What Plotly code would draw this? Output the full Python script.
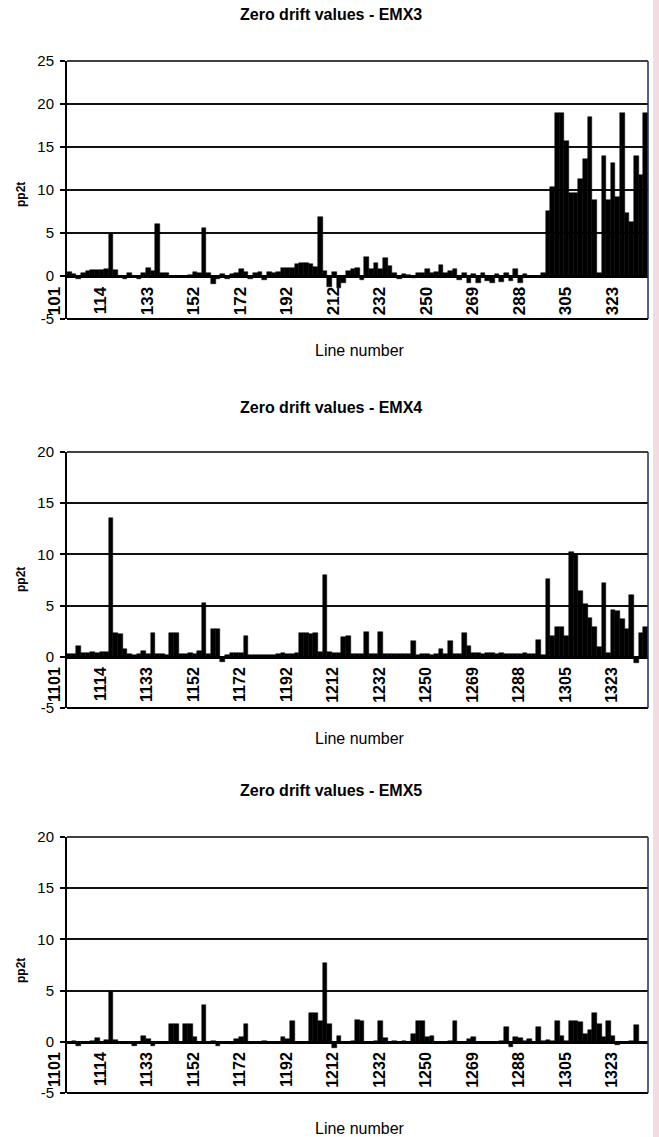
import plotly.graph_objects as go

# ---- data ----
emx3 = [0.5, 0.2, -0.4, 0.3, 0.6, 0.7, 0.7, 0.7, 0.8, 4.9,
        0.7, 0.0, -0.4, 0.3, 0.0, -0.3, 0.3, 0.9, 0.6, 6.1,
        0.4, 0.3, 0.0, 0.0, 0.0, 0.0, 0.1, 0.5, 0.3, 5.6,
        0.4, -0.9, -0.3, 0.2, -0.3, 0.2, 0.3, 0.8, 0.5, -0.4,
        0.4, 0.5, -0.5, 0.5, 0.4, 0.5, 0.9, 0.9, 0.9, 1.4,
        1.5, 1.5, 1.4, 1.0, 6.9, 0.6, -1.3, 0.5, -1.4, -0.8,
        0.6, 0.8, 0.9, -0.5, 2.2, 0.8, 1.5, 0.8, 2.1, 1.2,
        0.4, -0.3, 0.2, 0.1, -0.2, 0.3, 0.4, 0.8, 0.3, 0.5,
        1.3, 0.4, 0.6, 0.8, -0.5, 0.4, -0.8, 0.2, -0.8, 0.3,
        -0.6, -0.8, 0.2, -0.7, 0.3, -0.6, 0.8, -0.8, 0.2, 0.0,
        0.0, 0.0, 0.4, 7.6, 10.3, 19.0, 19.0, 15.7, 9.6, 9.6,
        11.3, 13.6, 18.5, 8.8, 0.3, 14.0, 8.8, 13.1, 9.2, 19.0,
        7.3, 6.3, 14.0, 11.7, 19.0]

emx4 = [0.3, 0.3, 1.1, 0.4, 0.4, 0.5, 0.4, 0.5, 0.5, 13.6,
        2.3, 2.2, 0.8, 0.3, 0.2, 0.3, 0.6, 0.3, 2.3, 0.3,
        0.3, 0.2, 2.3, 2.3, 0.3, 0.3, 0.4, 0.3, 0.6, 5.3,
        0.3, 2.7, 2.7, -0.5, 0.2, 0.4, 0.4, 0.4, 2.0, 0.2,
        0.2, 0.2, 0.2, 0.2, 0.2, 0.3, 0.4, 0.3, 0.3, 0.4,
        2.3, 2.3, 2.2, 2.3, 0.5, 8.0, 0.5, 0.4, 0.4, 1.9,
        2.0, 0.3, 0.3, 0.3, 2.4, 0.3, 0.3, 2.4, 0.3, 0.3,
        0.3, 0.3, 0.3, 0.3, 1.5, 0.2, 0.3, 0.3, 0.2, 0.3,
        0.8, 0.3, 1.5, 0.3, 0.3, 2.3, 1.1, 0.4, 0.4, 0.3,
        0.4, 0.4, 0.3, 0.4, 0.3, 0.3, 0.3, 0.3, 0.4, 0.3,
        0.3, 1.6, 0.2, 7.6, 2.0, 2.9, 2.9, 2.0, 10.2, 10.0,
        6.4, 5.2, 3.8, 2.9, 1.0, 7.2, 0.4, 4.6, 4.5, 3.7,
        2.7, 6.0, -0.6, 2.3, 2.9]

emx5 = [0.0, 0.1, -0.4, 0.0, 0.0, 0.1, 0.4, 0.0, 0.2, 4.9,
        0.2, 0.0, 0.0, 0.0, -0.4, 0.0, 0.6, 0.3, -0.4, 0.0,
        0.0, 0.0, 1.7, 1.7, 0.0, 1.7, 1.7, 0.5, 0.0, 3.6,
        0.0, 0.1, -0.4, 0.0, 0.0, -0.2, 0.3, 0.5, 1.7, 0.0,
        0.0, 0.0, 0.1, 0.0, 0.0, 0.0, 0.5, 0.3, 2.0, 0.0,
        0.0, 0.0, 2.8, 2.8, 2.0, 7.7, 1.7, -0.6, 0.6, 0.0,
        0.0, 0.1, 2.1, 2.0, 0.0, 0.0, 0.1, 2.0, 0.4, 0.0,
        0.1, 0.0, 0.1, 0.0, 0.8, 2.0, 2.0, 0.5, 0.6, 0.0,
        0.0, 0.0, 0.1, 2.0, 0.0, 0.0, 0.3, 0.5, 0.0, 0.0,
        0.0, 0.0, 0.0, 0.1, 1.4, -0.5, 0.5, 0.4, 0.1, 0.3,
        0.0, 1.4, 0.1, 0.2, 0.1, 2.0, 0.6, 0.1, 2.0, 2.0,
        1.9, 0.8, 1.2, 2.8, 1.7, 0.5, 2.0, 0.6, -0.3, 0.0,
        0.0, 0.1, 1.6, 0.0, 0.0]

ticks_emx3 = ["101", "114", "133", "152", "172", "192", "212",
              "232", "250", "269", "288", "305", "323"]
ticks_emx45 = ["1101", "1114", "1133", "1152", "1172", "1192", "1212",
               "1232", "1250", "1269", "1288", "1305", "1323"]
label_every = 10

titles = ["Zero drift values - EMX3", "Zero drift values - EMX4",
          "Zero drift values - EMX5"]
y_max = [25, 20, 20]

# ---- layout geometry (pixels of the 659 x 1137 page) ----
W, H = 659, 1137
FONT = "Liberation Sans, Arial, sans-serif"
plot_left, plot_right = 67, 648
panels = [
    dict(top=61, bottom=319, title_y=15, xlab_y=350, ylab_y=195, tsize=17),
    dict(top=452, bottom=708, title_y=407, xlab_y=739, ylab_y=580, tsize=16),
    dict(top=837, bottom=1093, title_y=790, xlab_y=1128, ylab_y=971, tsize=16),
]
series = [emx3, emx4, emx5]
tick_sets = [ticks_emx3, ticks_emx45, ticks_emx45]

fig = go.Figure()
annotations = []
shapes = []

for k in range(3):
    p = panels[k]
    vals = series[k]
    n = len(vals)
    xs = list(range(n))
    ax = "" if k == 0 else str(k + 1)
    d0 = 1 - p["bottom"] / H
    d1 = 1 - p["top"] / H
    ymax = y_max[k]
    zero_pos = d0 + (0 - (-5)) / (ymax + 5) * (d1 - d0)

    fig.add_trace(go.Bar(
        x=xs, y=vals, width=1.0,
        marker=dict(color="black", line=dict(color="black", width=0.5)),
        xaxis="x" + ax, yaxis="y" + ax, showlegend=False,
        hoverinfo="x+y"))

    tv = [i * label_every for i in range(len(tick_sets[k]))]
    fig.layout["xaxis" + ax] = dict(
        domain=[plot_left / W, plot_right / W], range=[-0.5, n - 0.5],
        anchor="free", position=zero_pos, automargin=False,
        showline=True, linewidth=3, linecolor="black",
        showgrid=False, zeroline=False,
        tickmode="array", tickvals=tv, ticktext=tick_sets[k],
        tickangle=-90, ticks="",
        tickfont=dict(family=FONT, size=p["tsize"], color="black", weight="bold"),
        ticklabelstandoff=2, ticklabelshift=-15)
    yt = list(range(-5, ymax + 1, 5))
    fig.layout["yaxis" + ax] = dict(
        domain=[d0, d1], range=[-5, ymax], anchor="x" + ax, automargin=False,
        tickmode="array", tickvals=yt, ticktext=[str(v) for v in yt],
        showgrid=True, gridcolor="#111111", gridwidth=1.8, zeroline=False,
        showline=True, linecolor="black", linewidth=2,
        ticks="outside", ticklen=5, tickwidth=1.5, tickcolor="black",
        tickfont=dict(family=FONT, size=15, color="black"),
        ticklabelstandoff=3)

    # plot frame (bottom at -5, right edge is bluish in the scan)
    shapes.append(dict(type="line", xref="x" + ax + " domain", yref="y" + ax + " domain",
                       x0=0, x1=1, y0=0, y1=0, line=dict(color="black", width=2)))
    shapes.append(dict(type="line", xref="x" + ax + " domain", yref="y" + ax + " domain",
                       x0=0, x1=1, y0=1, y1=1, line=dict(color="black", width=1.5)))
    shapes.append(dict(type="line", xref="x" + ax + " domain", yref="y" + ax + " domain",
                       x0=1, x1=1, y0=0, y1=1, line=dict(color="#1c2a6e", width=1.5)))

    annotations.append(dict(text="<b>" + titles[k] + "</b>", xref="paper", yref="paper",
                            x=331 / W, y=1 - p["title_y"] / H, showarrow=False,
                            xanchor="center", yanchor="middle",
                            font=dict(family=FONT, size=16, color="black")))
    annotations.append(dict(text="Line number", xref="paper", yref="paper",
                            x=360 / W, y=1 - p["xlab_y"] / H, showarrow=False,
                            xanchor="center", yanchor="middle",
                            font=dict(family=FONT, size=16, color="black")))
    annotations.append(dict(text="<b>pp2t</b>", xref="paper", yref="paper",
                            x=21 / W, y=1 - p["ylab_y"] / H, showarrow=False,
                            textangle=-90, xanchor="center", yanchor="middle",
                            font=dict(family=FONT, size=12, color="black")))

# pinkish page edge seen in the scan
shapes.append(dict(type="rect", xref="paper", yref="paper", x0=653 / W, x1=1, y0=0, y1=1,
                   fillcolor="#f3dbe2", line=dict(width=0), layer="below"))

fig.update_layout(
    width=W, height=H, autosize=False,
    margin=dict(l=0, r=0, t=0, b=0, autoexpand=False),
    paper_bgcolor="white", plot_bgcolor="white",
    bargap=0, showlegend=False,
    annotations=annotations, shapes=shapes,
    font=dict(family=FONT, color="black"))

fig.write_html("out.html", config={"displayModeBar": False},
               post_script="document.body.style.margin='0';document.body.style.overflow='hidden';")
